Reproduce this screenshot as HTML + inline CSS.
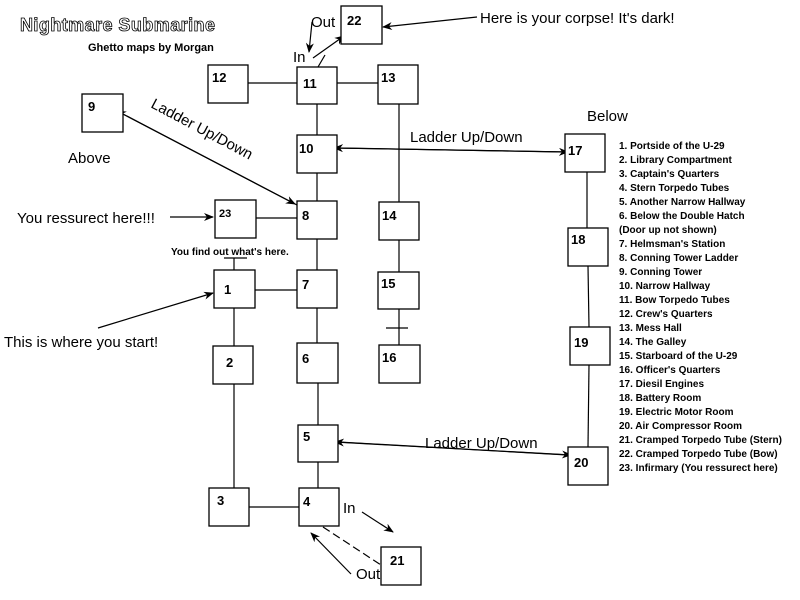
<!DOCTYPE html>
<html><head><meta charset="utf-8"><style>
html,body{margin:0;padding:0;background:#fff;}
svg{display:block;font-family:"Liberation Sans",Arial,sans-serif;}
.b{fill:#fff;stroke:#000;stroke-width:1.3}
.n{font-size:13px;font-weight:bold}
.l{stroke:#000;stroke-width:1.2;fill:none}
.t{font-size:15px}
.s{font-size:10px;font-weight:bold}
</style></head><body>
<svg width="800" height="600" viewBox="0 0 800 600" xmlns="http://www.w3.org/2000/svg">
<defs><marker id="a" markerWidth="10" markerHeight="8" refX="9" refY="4" orient="auto" markerUnits="userSpaceOnUse"><path d="M0,0 L10,4 L0,8 L3,4 z" fill="#000"/></marker></defs>
<g class="l">
<line x1="248" y1="83" x2="297" y2="83"/><line x1="337" y1="83" x2="378" y2="83"/>
<line x1="317" y1="104" x2="317" y2="135"/><line x1="317" y1="173" x2="317" y2="201"/>
<line x1="317" y1="239" x2="317" y2="270"/><line x1="317" y1="308" x2="317" y2="343"/>
<line x1="318" y1="383" x2="318" y2="425"/><line x1="318" y1="462" x2="318" y2="488"/>
<line x1="399" y1="104" x2="399" y2="202"/><line x1="399" y1="240" x2="399" y2="272"/>
<line x1="399" y1="309" x2="399" y2="345"/><line x1="386" y1="328" x2="408" y2="328"/>
<line x1="256" y1="218" x2="297" y2="218"/><line x1="255" y1="290" x2="297" y2="290"/>
<line x1="234" y1="308" x2="234" y2="346"/><line x1="234" y1="384" x2="234" y2="488"/>
<line x1="249" y1="507" x2="299" y2="507"/>
<line x1="234" y1="258" x2="234" y2="270"/><line x1="224" y1="258" x2="247" y2="258"/>
<line x1="587" y1="172" x2="587" y2="228"/><line x1="588" y1="266" x2="589" y2="327"/>
<line x1="589" y1="365" x2="588" y2="447"/>
<line x1="318" y1="67" x2="325" y2="55"/>
<line x1="323" y1="527" x2="381" y2="565" stroke-dasharray="8,4"/>
<line x1="297" y1="205" x2="117" y2="111" marker-end="url(#a)"/>
<line x1="123" y1="114" x2="295" y2="204" marker-end="url(#a)"/>
<line x1="565" y1="152" x2="334" y2="148" marker-end="url(#a)"/>
<line x1="337" y1="148" x2="568" y2="152" marker-end="url(#a)"/>
<line x1="568" y1="455" x2="335" y2="442" marker-end="url(#a)"/>
<line x1="338" y1="442" x2="571" y2="455" marker-end="url(#a)"/>
<line x1="170" y1="217" x2="213" y2="217" marker-end="url(#a)"/>
<line x1="98" y1="328" x2="213" y2="293" marker-end="url(#a)"/>
<line x1="477" y1="17" x2="383" y2="27" marker-end="url(#a)"/>
<line x1="312" y1="22" x2="309" y2="52" marker-end="url(#a)"/>
<line x1="313" y1="58" x2="344" y2="36" marker-end="url(#a)"/>
<line x1="362" y1="512" x2="393" y2="532" marker-end="url(#a)"/>
<line x1="351" y1="574" x2="311" y2="533" marker-end="url(#a)"/>
</g>
<g class="b">
<rect x="341" y="6" width="41" height="38"/><rect x="208" y="65" width="40" height="38"/>
<rect x="297" y="67" width="40" height="37"/><rect x="378" y="65" width="40" height="39"/>
<rect x="82" y="94" width="41" height="38"/><rect x="297" y="135" width="40" height="38"/>
<rect x="565" y="134" width="40" height="38"/><rect x="215" y="200" width="41" height="38"/>
<rect x="297" y="201" width="40" height="38"/><rect x="379" y="202" width="40" height="38"/>
<rect x="568" y="228" width="40" height="38"/><rect x="214" y="270" width="41" height="38"/>
<rect x="297" y="270" width="40" height="38"/><rect x="378" y="272" width="41" height="37"/>
<rect x="570" y="327" width="40" height="38"/><rect x="213" y="346" width="40" height="38"/>
<rect x="297" y="343" width="41" height="40"/><rect x="379" y="345" width="41" height="38"/>
<rect x="298" y="425" width="40" height="37"/><rect x="568" y="447" width="40" height="38"/>
<rect x="209" y="488" width="40" height="38"/><rect x="299" y="488" width="40" height="38"/>
<rect x="381" y="547" width="40" height="38"/>
</g>
<g class="n">
<text x="347" y="25">22</text><text x="212" y="82">12</text><text x="303" y="88">11</text>
<text x="381" y="82">13</text><text x="88" y="111">9</text><text x="299" y="153">10</text>
<text x="568" y="155">17</text><text x="219" y="217" font-size="11">23</text><text x="302" y="220">8</text>
<text x="382" y="220">14</text><text x="571" y="244">18</text><text x="224" y="294">1</text>
<text x="302" y="289">7</text><text x="381" y="288">15</text><text x="574" y="347">19</text>
<text x="226" y="367">2</text><text x="302" y="363">6</text><text x="382" y="362">16</text>
<text x="303" y="441">5</text><text x="574" y="467">20</text><text x="217" y="505">3</text>
<text x="303" y="506">4</text><text x="390" y="565">21</text>
</g>
<text x="20" y="31" font-size="18" font-weight="bold" fill="#fff" stroke="#000" stroke-width="0.8" textLength="195">Nightmare Submarine</text>
<text x="88" y="51" font-size="11" font-weight="bold">Ghetto maps by Morgan</text>
<text x="311" y="27" class="t">Out</text><text x="293" y="62" class="t">In</text>
<text x="480" y="23" class="t">Here is your corpse! It's dark!</text>
<text x="68" y="163" class="t">Above</text>
<text x="150" y="107" class="t" transform="rotate(28 150 107)">Ladder Up/Down</text>
<text x="410" y="142" class="t">Ladder Up/Down</text>
<text x="587" y="121" class="t">Below</text>
<text x="17" y="223" class="t">You ressurect here!!!</text>
<text x="171" y="255" class="s">You find out what's here.</text>
<text x="4" y="347" class="t">This is where you start!</text>
<text x="425" y="448" class="t">Ladder Up/Down</text>
<text x="343" y="513" class="t">In</text><text x="356" y="579" class="t">Out</text>
<g class="s">
<text x="619" y="149">1. Portside of the U-29</text>
<text x="619" y="163">2. Library Compartment</text>
<text x="619" y="177">3. Captain's Quarters</text>
<text x="619" y="191">4. Stern Torpedo Tubes</text>
<text x="619" y="205">5. Another Narrow Hallway</text>
<text x="619" y="219">6. Below the Double Hatch</text>
<text x="619" y="233">(Door up not shown)</text>
<text x="619" y="247">7. Helmsman's Station</text>
<text x="619" y="261">8. Conning Tower Ladder</text>
<text x="619" y="275">9. Conning Tower</text>
<text x="619" y="289">10. Narrow Hallway</text>
<text x="619" y="303">11. Bow Torpedo Tubes</text>
<text x="619" y="317">12. Crew's Quarters</text>
<text x="619" y="331">13. Mess Hall</text>
<text x="619" y="345">14. The Galley</text>
<text x="619" y="359">15. Starboard of the U-29</text>
<text x="619" y="373">16. Officer's Quarters</text>
<text x="619" y="387">17. Diesil Engines</text>
<text x="619" y="401">18. Battery Room</text>
<text x="619" y="415">19. Electric Motor Room</text>
<text x="619" y="429">20. Air Compressor Room</text>
<text x="619" y="443">21. Cramped Torpedo Tube (Stern)</text>
<text x="619" y="457">22. Cramped Torpedo Tube (Bow)</text>
<text x="619" y="471">23. Infirmary (You ressurect here)</text>
</g>
</svg>
</body></html>
